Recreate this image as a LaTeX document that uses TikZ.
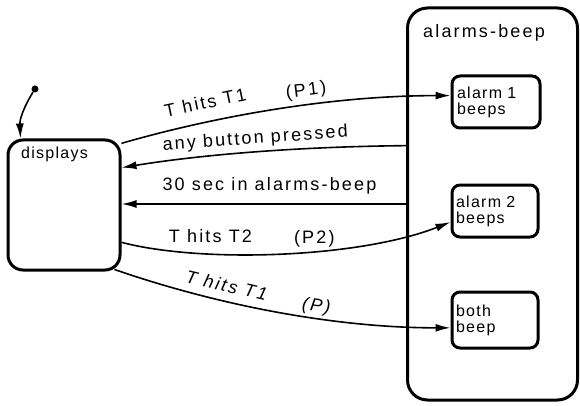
\documentclass[tikz,border=0pt]{standalone}
\usepackage{fontspec}
\setmainfont{Liberation Sans}[LetterSpace=12]
\newfontfamily\boxfont{Liberation Sans}[LetterSpace=8]
\usetikzlibrary{arrows.meta,calc}

\begin{document}
\begin{tikzpicture}[
  x=1pt, y=-1pt,
  >={Latex[length=15pt,width=8pt]},
  state/.style={
    draw,
    line width=3pt,
    rounded corners=#1,
    inner sep=0pt
    },
  state/.default=8pt,
  inner/.style={
    state,
    align=left,
    text width=78pt,
    inner xsep=4pt,
    font=\boxfont\fontsize{16}{16}\selectfont
    },
  trans/.style={->, line width=1.6pt},
  lbl/.style={
    font=\fontsize{18}{20}\selectfont,
    inner sep=1pt,
    text height=13pt,
    text depth=0pt
  }
]

\useasboundingbox (0,0) rectangle (580,406);

% states
\node[state=20pt, minimum width=170pt, minimum height=392pt] (alarms) at (492.5,204) {};
\node[anchor=base west, inner sep=0pt, font=\fontsize{18}{20}\selectfont] (alarmstitle) at (423,38) {alarms-beep};
\node[inner, minimum width=88pt, minimum height=52pt] (alarm1) at (496,102) {alarm 1\\beeps};
\node[inner, minimum width=86pt, minimum height=52pt] (alarm2) at (495,211) {alarm 2\\beeps};
\node[inner, minimum width=86pt, minimum height=56pt] (both) at (495,320) {both\\beep};

\node[state=15pt, minimum width=112pt, minimum height=130pt] (displays) at (64,205) {};
\node[anchor=base west, inner sep=0pt, font=\boxfont\fontsize{16}{16}\selectfont] (displaystitle) at (21,159) {displays};
\node[circle, fill, inner sep=0pt, minimum size=7pt] (init) at (35,89) {};

% transitions
\draw[trans] (init) .. controls +(-7,11) and +(-1,-22) .. ($(displays.north west)+(14,0)$);

\draw[trans] (displays.47) .. controls +(90,-26) and +(-122,0) .. (alarm1.172)
  node[lbl, sloped, above=11.5pt, pos=.3] (hitsone) {T hits T1}
  node[lbl, sloped, above=7.5pt, pos=.6] (pone) {(P1)};

\draw[trans] (alarms.146) .. controls +(-108,1) and +(80,-13) .. (displays.33)
  node[lbl, rotate=4, above=6.5pt, pos=.49] (button) {any button pressed};

\draw[trans] (alarms.west) -- (alarms.west -| displays.east)
  node[lbl, above=11.5pt, pos=.48] (timeout) {30 sec in alarms-beep};

\draw[trans] (displays.-33) .. controls +(80,21) and +(-92,36) .. (alarm2.194)
  node[lbl, above=9.5pt, pos=.3] (hitstwo) {T hits T2}
  node[lbl, above=5.5pt, pos=.59] (ptwo) {(P2)};

\draw[trans] ($(displays.south east)+(-7,-2)$) .. controls +(107,37) and +(-112,0) .. (both.190)
  node[lbl, sloped, above=7.5pt, pos=.33] (hitsboth) {\itshape T hits T1}
  node[lbl, sloped, above=4.5pt, pos=.6] (pboth) {\itshape (P)};

\end{tikzpicture}
\end{document}
